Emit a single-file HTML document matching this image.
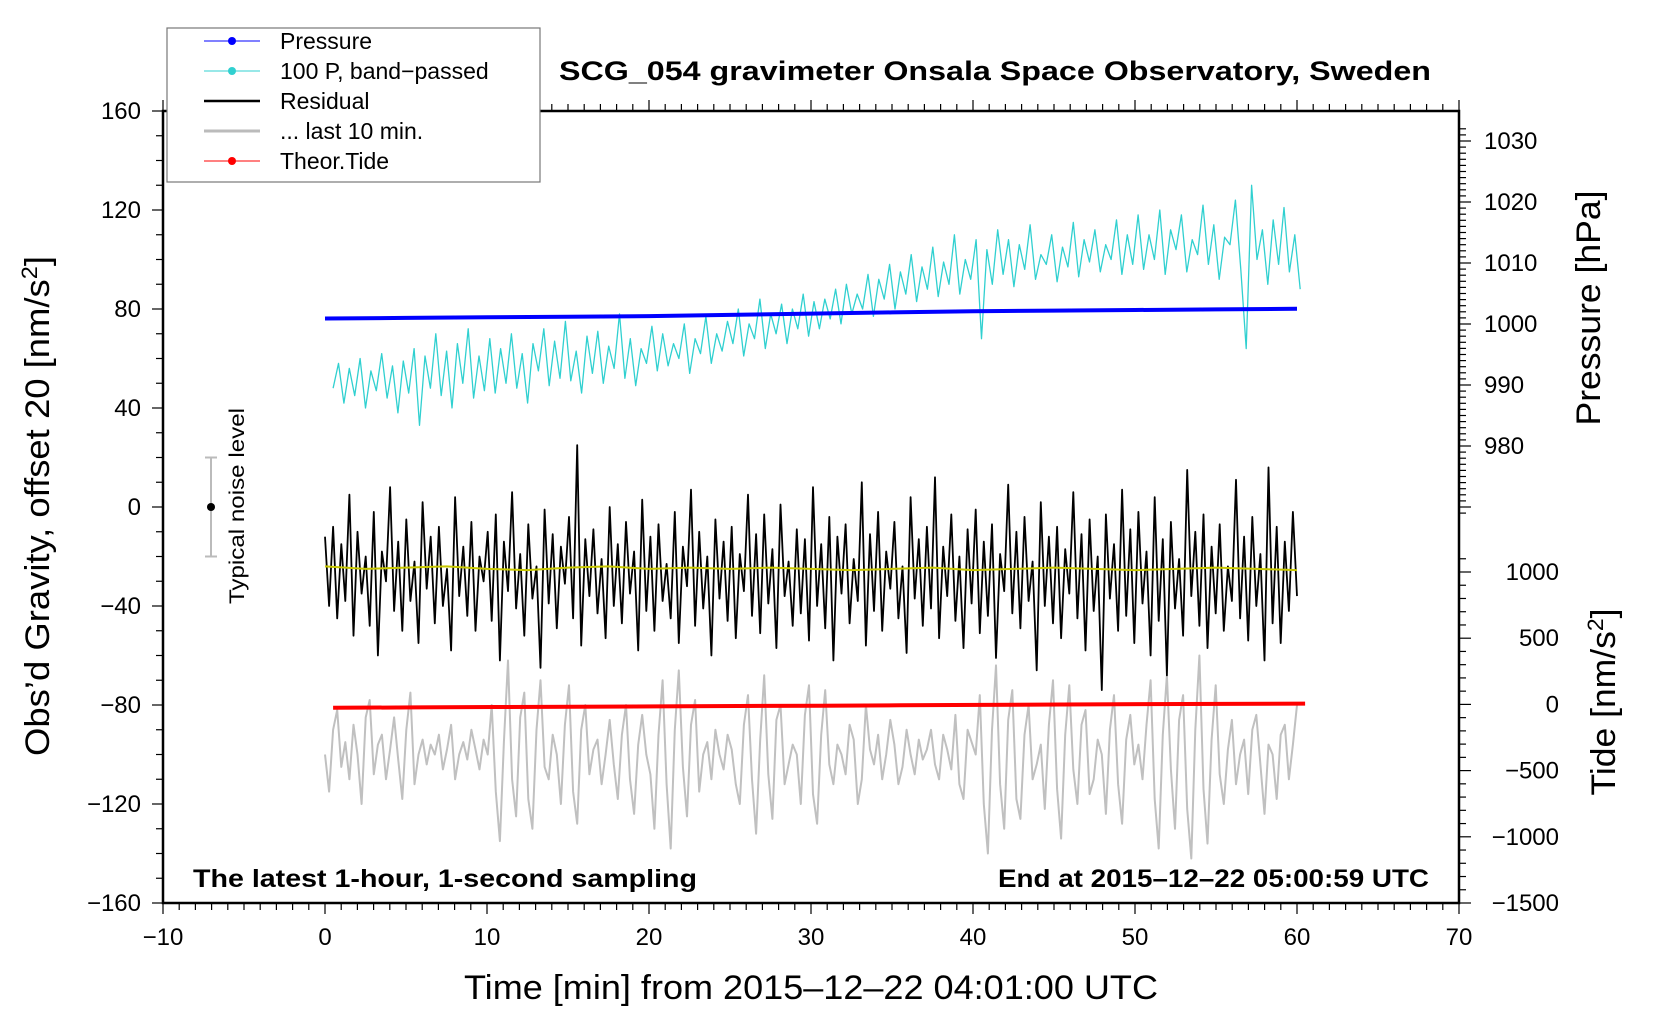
<!DOCTYPE html>
<html><head><meta charset="utf-8"><style>
html,body{margin:0;padding:0;background:#fff;}
svg{display:block;font-family:"Liberation Sans",sans-serif;}
</style></head><body>
<svg id="chart" width="1660" height="1020" viewBox="0 0 1660 1020" xmlns="http://www.w3.org/2000/svg"></svg>
<script>
// ---- data ----
const xTicks = [-10,0,10,20,30,40,50,60,70];
const yTicks = [160,120,80,40,0,-40,-80,-120,-160];
const pTicks = [1030,1020,1010,1000,990,980];
const tideTicks = [1000,500,0,-500,-1000,-1500];
const pressureT = [0,5,10,15,20,25,30,35,40,45,50,55,60];
const pressureHpa = [1000.9,1001.0,1001.1,1001.2,1001.3,1001.5,1001.7,1001.9,1002.1,1002.2,1002.3,1002.4,1002.5];
const tideT = [0.5,5.5,10.5,15.5,20.5,25.5,30.5,35.5,40.5,45.5,50.5,55.5,60.5];
const tideVals = [-26,-23,-20,-18,-15,-12,-10,-7,-4,-1,2,4,6];
const bandPassed = [48,58,42,56,45,60,40,55,47,62,44,57,38,59,46,64,33,61,48,70,45,63,40,66,50,72,44,61,47,68,
46,64,50,70,48,62,42,66,55,72,49,67,52,75,51,63,46,69,54,71,50,65,56,78,52,68,49,64,58,73,
55,70,57,66,60,74,54,68,62,77,58,70,63,75,66,80,61,74,68,84,64,78,70,82,66,80,72,86,69,83,
72,84,76,88,74,90,78,86,80,94,77,92,84,98,80,95,86,102,83,97,88,105,85,99,90,110,86,100,92,108,
68,104,90,112,94,108,89,106,96,114,92,102,98,110,91,105,97,115,93,108,99,112,95,106,100,116,94,110,98,118,
96,110,100,120,94,112,104,118,95,108,102,122,98,114,92,109,106,124,96,64,130,100,112,90,116,98,121,95,110,88];
const residual = [-12,-40,-8,-45,-15,-38,5,-52,-10,-35,-20,-48,-2,-60,-18,-30,8,-42,-14,-50,-5,-38,-22,-55,2,-33,-12,-47,-8,-40,-25,-58,4,-36,-16,-44,-6,-50,-20,-30,
-10,-46,-3,-62,-14,-34,6,-41,-19,-52,-7,-37,-24,-65,-1,-39,-11,-49,-16,-31,-4,-45,25,-56,-13,-36,-9,-43,-21,-53,0,-40,-15,-47,-6,-35,-18,-58,3,-42,
-12,-50,-7,-38,-23,-45,-2,-55,-16,-32,7,-48,-10,-41,-20,-60,-5,-37,-14,-46,-8,-53,-19,-34,5,-44,-11,-51,-3,-39,-17,-57,1,-36,-22,-48,-9,-43,-13,-54,
8,-40,-15,-49,-4,-62,-12,-35,-7,-47,-21,-38,10,-56,-11,-42,-2,-50,-18,-33,-6,-45,-24,-59,4,-37,-13,-48,-8,-41,12,-53,-16,-36,-3,-46,-20,-57,-9,-39,
-1,-51,-14,-44,-7,-61,-19,-34,9,-43,-10,-49,-4,-38,-22,-66,2,-40,-12,-47,-8,-53,-17,-35,6,-45,-11,-58,-5,-42,-20,-74,-3,-37,-15,-50,7,-44,-9,-55,
-2,-39,-18,-60,4,-46,-13,-68,-6,-41,-21,-52,15,-36,-10,-48,-3,-57,-16,-43,-7,-50,-24,-38,11,-45,-12,-54,-4,-40,-19,-62,16,-47,-8,-55,-14,-42,-2,-36];
const smoothed = [-24,-25,-24.5,-24,-25,-25.5,-24.5,-24,-25,-24.5,-25,-24.5,-25,-25.5,-25,-24.5,-25.5,-25,-24.5,-25,-25.5,-25,-24.5,-25,-25.5];
const last10 = [-100,-115,-90,-82,-105,-95,-110,-88,-100,-120,-85,-78,-108,-96,-92,-110,-98,-85,-102,-118,-90,-75,-112,-100,-94,-104,-96,-100,-92,-106,-98,-88,-110,-100,-95,-102,-90,-98,-106,-94,
-100,-80,-115,-135,-95,-62,-110,-125,-85,-75,-118,-130,-90,-70,-105,-110,-92,-100,-120,-88,-72,-115,-128,-90,-80,-108,-98,-94,-112,-100,-86,-104,-118,-92,-80,-110,-124,-96,-84,-100,
-108,-130,-92,-70,-112,-138,-90,-66,-105,-125,-88,-78,-115,-100,-95,-110,-90,-100,-106,-92,-98,-112,-120,-88,-76,-110,-132,-94,-68,-108,-126,-86,-80,-112,-104,-96,-100,-120,-84,-72,
-116,-128,-92,-74,-104,-112,-96,-100,-108,-88,-94,-120,-110,-80,-98,-104,-92,-110,-100,-86,-96,-112,-105,-90,-100,-108,-94,-102,-98,-90,-104,-110,-92,-98,-106,-84,-112,-118,-90,-95,
-100,-76,-120,-140,-90,-64,-112,-130,-86,-74,-118,-126,-92,-80,-110,-104,-96,-122,-88,-70,-114,-134,-92,-72,-106,-120,-88,-82,-116,-110,-94,-100,-124,-90,-76,-112,-128,-94,-84,-104,
-96,-110,-88,-70,-118,-138,-92,-68,-106,-130,-86,-76,-122,-142,-90,-60,-114,-136,-94,-72,-108,-120,-98,-86,-112,-100,-94,-116,-90,-84,-104,-124,-96,-100,-118,-92,-88,-110,-96,-80];

// ---- axes ----
const L=163,R=1459,T=111,B=903;
const X = v => L + (v+10)*(R-L)/80;
const Y = v => T + (160-v)*(B-T)/320;
const YP = p => 141 + (1030-p)*(446-141)/50;
const YT = t => 572 + (1000-t)*(903-572)/2500;

const svg=document.getElementById('chart');
const NS='http://www.w3.org/2000/svg';
function mk(tag,attrs,parent){const e=document.createElementNS(NS,tag);for(const k in attrs)e.setAttribute(k,attrs[k]);(parent||svg).appendChild(e);return e;}
function txt(s,attrs,parent){const e=mk('text',attrs,parent);e.textContent=s;return e;}
function poly(xs,ys,stroke,w,name){const pts=xs.map((x,i)=>x.toFixed(1)+','+ys[i].toFixed(1)).join(' ');
  const e=mk('polyline',{points:pts,fill:'none',stroke:stroke,'stroke-width':w,'stroke-linejoin':'round'});
  
  
  return e;}

// series
const gT = last10.map((v,i)=>i*60/(last10.length-1));
poly(gT.map(X), last10.map(Y), '#c0c0c0', 2, 'last-10-min-series');
const cT = bandPassed.map((v,i)=>0.5+i*(59.7/(bandPassed.length-1)));
poly(cT.map(X), bandPassed.map(Y), '#30d0d0', 1.3, 'band-passed-pressure-series');
const rT = residual.map((v,i)=>i*60/(residual.length-1));
poly(rT.map(X), residual.map(Y), '#000', 1.8, 'residual-series');
const sT = smoothed.map((v,i)=>i*60/(smoothed.length-1));
poly(sT.map(X), smoothed.map(Y), '#c8c800', 2, 'smoothed-residual-series');
poly(pressureT.map(X), pressureHpa.map(YP), '#0000ff', 4, 'pressure-series');
poly(tideT.map(X), tideVals.map(YT), '#ff0000', 4, 'tide-series');

// frame
const fr=mk('rect',{x:L,y:T,width:R-L,height:B-T,fill:'none',stroke:'#000','stroke-width':2.5});



// x ticks
for(let m=-10;m<=70;m++){
  const x=X(m), big=(m%10===0);
  mk('line',{x1:x,y1:B,x2:x,y2:B+(big?11:7),stroke:'#000','stroke-width':1.2});
  mk('line',{x1:x,y1:T,x2:x,y2:T-(big?11:7),stroke:'#000','stroke-width':1.2});
}
xTicks.forEach(v=>{const t=txt((v<0?'\u2212'+(-v):String(v)),{x:X(v),y:945,'font-size':24,'text-anchor':'middle'});
  
  });
// y ticks
for(let v=-160;v<=160;v+=10){const y=Y(v);mk('line',{x1:L,y1:y,x2:L-(v%40===0?11:7),y2:y,stroke:'#000','stroke-width':1.2});}
yTicks.forEach(v=>{const t=txt((v<0?'\u2212'+(-v):String(v)),{x:141,y:Y(v)+8,'font-size':24,'text-anchor':'end'});
  
  });
// pressure ticks
for(let p=969;p<=1032;p++){const y=YP(p);if(y<T)continue;mk('line',{x1:R,y1:y,x2:R+(p%10===0?12:7),y2:y,stroke:'#000','stroke-width':1.2});}
pTicks.forEach(v=>{const t=txt(String(v),{x:1484,y:YP(v)+8,'font-size':24});
  
  });
// tide ticks
for(let v=-1500;v<=1100;v+=100){const y=YT(v);mk('line',{x1:R,y1:y,x2:R+(v%500===0?12:7),y2:y,stroke:'#000','stroke-width':1.2});}
tideTicks.forEach(v=>{const t=txt((v<0?'\u2212'+(-v):String(v)),{x:1559,y:YT(v)+8,'font-size':24,'text-anchor':'end'});
  
  });

// noise bar
mk('line',{x1:211,y1:Y(20),x2:211,y2:Y(-20),stroke:'#bbb','stroke-width':2});
mk('line',{x1:205,y1:Y(20),x2:217,y2:Y(20),stroke:'#bbb','stroke-width':2});
mk('line',{x1:205,y1:Y(-20),x2:217,y2:Y(-20),stroke:'#bbb','stroke-width':2});
mk('circle',{cx:211,cy:Y(0),r:4,fill:'#000'});
</script>
<script>
(function(){
const svg=document.getElementById('chart');const NS='http://www.w3.org/2000/svg';
function t(s,a,name){const e=document.createElementNS(NS,'text');for(const k in a)e.setAttribute(k,a[k]);e.textContent=s;
  
  
  svg.appendChild(e);return e;}
t('Typical noise level',{x:0,y:0,'font-size':21,'text-anchor':'middle',transform:'translate(244,506) rotate(-90)',textLength:196,lengthAdjust:'spacingAndGlyphs'},'noise-level-label');
t('SCG_054 gravimeter Onsala Space Observatory, Sweden',{x:995,y:80,'font-size':27,'font-weight':'bold','text-anchor':'middle',textLength:872,lengthAdjust:'spacingAndGlyphs'},'chart-title');
t('The latest 1-hour, 1-second sampling',{x:193,y:887,'font-size':25,'font-weight':'bold',textLength:504,lengthAdjust:'spacingAndGlyphs'},'period-note');
t('End at 2015\u201312\u201322 05:00:59 UTC',{x:1429,y:887,'font-size':25,'font-weight':'bold','text-anchor':'end',textLength:431,lengthAdjust:'spacingAndGlyphs'},'end-time-note');
t('Time [min] from 2015\u201312\u201322 04:01:00 UTC',{x:811,y:999,'font-size':34,'text-anchor':'middle',textLength:694,lengthAdjust:'spacingAndGlyphs'},'x-axis-title');
const yl=t('',{x:0,y:0,'font-size':34,'text-anchor':'middle',transform:'translate(49,506) rotate(-90)',textLength:500,lengthAdjust:'spacingAndGlyphs'},'y-axis-title');
yl.innerHTML='Obs\u2019d Gravity, offset 20 [nm/s<tspan dy="-12" font-size="22">2</tspan><tspan dy="12">]</tspan>';
t('Pressure [hPa]',{x:0,y:0,'font-size':34,'text-anchor':'middle',transform:'translate(1600,308) rotate(-90)',textLength:235,lengthAdjust:'spacingAndGlyphs'},'pressure-axis-title');
const tl=t('',{x:0,y:0,'font-size':34,'text-anchor':'middle',transform:'translate(1615,702) rotate(-90)',textLength:187,lengthAdjust:'spacingAndGlyphs'},'tide-axis-title');
tl.innerHTML='Tide [nm/s<tspan dy="-12" font-size="22">2</tspan><tspan dy="12">]</tspan>';
})();
</script>
<script>
(function(){
const svg=document.getElementById('chart');const NS='http://www.w3.org/2000/svg';
const g=document.createElementNS(NS,'g');


svg.appendChild(g);
const r=document.createElementNS(NS,'rect');
[['x',167],['y',28],['width',373],['height',154],['fill','#fff'],['stroke','#777'],['stroke-width',1.2]].forEach(a=>r.setAttribute(a[0],a[1]));
g.appendChild(r);
const items=[['Pressure','#0000ff',1,true],['100 P, band\u2212passed','#30d0d0',1,true],['Residual','#000',2.5,false],['... last 10 min.','#bbb',3,false],['Theor.Tide','#ff0000',1,true]];
items.forEach((it,i)=>{const y=41+i*30;
  const ln=document.createElementNS(NS,'line');
  [['x1',204],['x2',260],['y1',y],['y2',y],['stroke',it[1]],['stroke-width',it[2]]].forEach(a=>ln.setAttribute(a[0],a[1]));
  g.appendChild(ln);
  if(it[3]){const c=document.createElementNS(NS,'circle');[['cx',232],['cy',y],['r',4],['fill',it[1]]].forEach(a=>c.setAttribute(a[0],a[1]));g.appendChild(c);}
  const tx=document.createElementNS(NS,'text');
  
  
  tx.setAttribute('x',280);tx.setAttribute('y',y+8);tx.setAttribute('font-size',23);
  tx.textContent=it[0];g.appendChild(tx);
});
})();
</script>
</body></html>
